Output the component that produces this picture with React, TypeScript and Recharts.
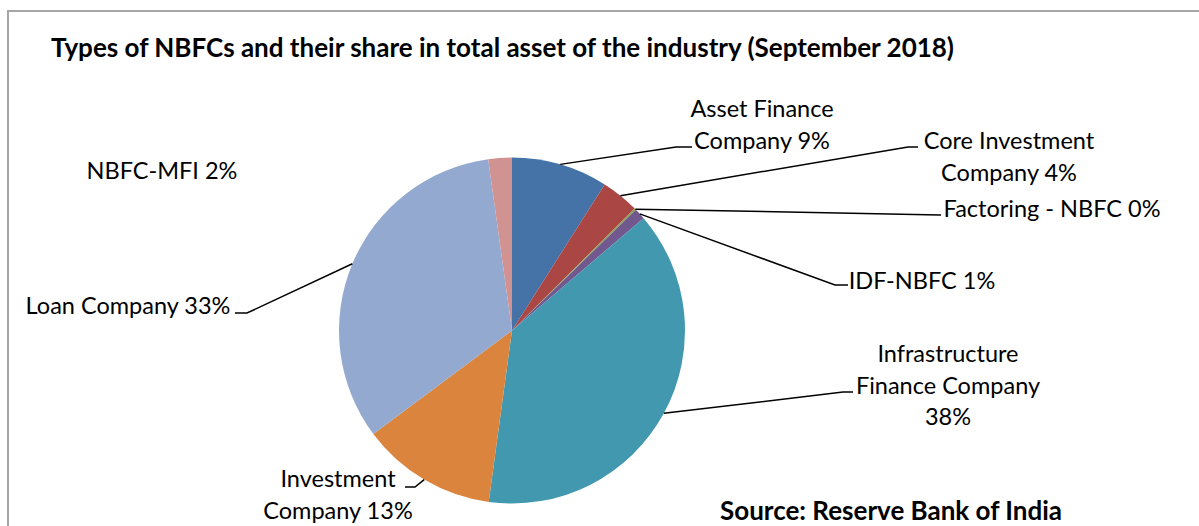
import { Cell, Pie, PieChart } from 'recharts';

const RADIAN = Math.PI / 180;

const names = [
  'Asset Finance Company',
  'Core Investment Company',
  'Factoring - NBFC',
  'IDF-NBFC',
  'Infrastructure Finance Company',
  'Investment Company',
  'Loan Company',
  'NBFC-MFI',
];
const values = [9.0, 3.55, 0.15, 1.05, 38.4, 12.65, 33.0, 2.2];
const colors = ['#4572A7', '#AA4643', '#89A54E', '#71588F', '#4198AF', '#DB843D', '#93A9CF', '#D19392'];

const chartData = names.map((name, i) => ({ name, value: values[i] }));

const FONT = 'Lato, "Open Sans", sans-serif';

// where each label sits and how its leader line bends (page px)
type LabelLayout = { x: number; y: number; maxChars: number; elbow?: [number, number]; end?: [number, number] };
const labelLayout: LabelLayout[] = [
  { x: 762, y: 108, maxChars: 15, elbow: [676, 147], end: [692, 147] },
  { x: 1009, y: 140, maxChars: 15, elbow: [908, 147], end: [918, 147] },
  { x: 1052, y: 208, maxChars: 30, elbow: [940, 215], end: [941, 215] },
  { x: 922, y: 280, maxChars: 30, elbow: [835, 285], end: [848, 285] },
  { x: 948, y: 353, maxChars: 15, elbow: [843, 392], end: [853, 392] },
  { x: 338, y: 478, maxChars: 15, elbow: [415, 487], end: [405, 487] },
  { x: 128, y: 305, maxChars: 30, elbow: [247, 313], end: [235, 313] },
  { x: 162, y: 170, maxChars: 30 },
];

const wrap = (text: string, max: number) => {
  const out: string[] = [];
  let cur = '';
  text.split(' ').forEach((w) => {
    const next = cur ? `${cur} ${w}` : w;
    if (next.length > max && cur) {
      out.push(cur);
      cur = w;
    } else {
      cur = next;
    }
  });
  if (cur) out.push(cur);
  return out;
};

const renderLabel = (props: any) => {
  const { cx, cy, midAngle, outerRadius, percent, index } = props;
  const lay = labelLayout[index];
  const lines = wrap(`${names[index]} ${Math.round(percent * 100)}%`, lay.maxChars);
  const sx = cx + outerRadius * Math.cos(-midAngle * RADIAN);
  const sy = cy + outerRadius * Math.sin(-midAngle * RADIAN);
  return (
    <g key={`label-${index}`}>
      {lay.elbow && lay.end && (
        <polyline
          points={`${sx},${sy} ${lay.elbow[0]},${lay.elbow[1]} ${lay.end[0]},${lay.end[1]}`}
          fill="none"
          stroke="#000"
          strokeWidth={1.5}
        />
      )}
      <text x={lay.x} y={lay.y} textAnchor="middle" dominantBaseline="central" fontFamily={FONT} fontSize={23.5} fill="#000">
        {lines.map((l, i) => (
          <tspan key={i} x={lay.x} dy={i === 0 ? 0 : 31.5}>
            {l}
          </tspan>
        ))}
      </text>
    </g>
  );
};

export default function App() {
  return (
    <div style={{ position: 'absolute', left: 0, top: 0, width: 1199, height: 526, background: '#fff' }}>
      <PieChart width={1199} height={526} margin={{ top: 0, right: 0, bottom: 0, left: 0 }}>
        <line x1={7} y1={11} x2={1199} y2={11} stroke="#a6a6a6" strokeWidth={2} />
        <line x1={8} y1={10} x2={8} y2={526} stroke="#a6a6a6" strokeWidth={2} />
        <text x={51} y={47} dominantBaseline="central" fontFamily={FONT} fontWeight="bold" fontSize={26} fill="#000">
          Types of NBFCs and their share in total asset of the industry (September 2018)
        </text>
        <text x={720} y={510} dominantBaseline="central" fontFamily={FONT} fontWeight="bold" fontSize={26} fill="#000">
          Source: Reserve Bank of India
        </text>
        <Pie
          data={chartData}
          dataKey="value"
          nameKey="name"
          cx={512}
          cy={330.5}
          outerRadius={173}
          startAngle={90}
          endAngle={-270}
          stroke="none"
          label={renderLabel}
          labelLine={false}
          isAnimationActive={false}
        >
          {chartData.map((entry, i) => (
            <Cell key={`cell-${entry.name}`} fill={colors[i]} />
          ))}
        </Pie>
      </PieChart>
    </div>
  );
}
